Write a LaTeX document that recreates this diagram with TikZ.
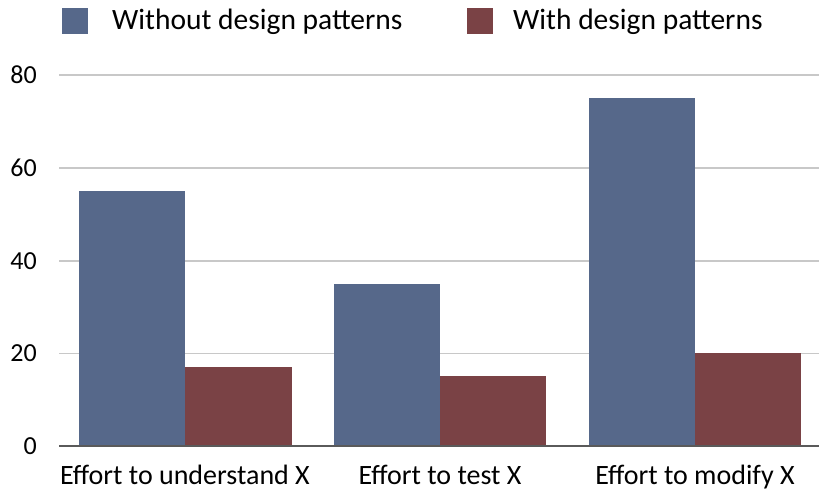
\documentclass[tikz,border=0pt]{standalone}
\usepackage{fontspec}
\setmainfont{Carlito}
\definecolor{barblue}{RGB}{86,104,138}
\definecolor{barred}{RGB}{122,66,69}
\definecolor{gridgray}{RGB}{200,200,200}
\definecolor{axisgray}{RGB}{90,90,90}
\begin{document}
\begin{tikzpicture}[x=1pt,y=-1pt,
  gridline/.style={draw=gridgray,line width=1.6pt},
  axisline/.style={draw=axisgray,line width=1.6pt},
  blueBar/.style={fill=barblue,draw=none},
  redBar/.style={fill=barred,draw=none},
  ticklab/.style={anchor=east,inner sep=0pt,font=\fontsize{26}{26}\selectfont},
  catlab/.style={anchor=base,inner sep=0pt,font=\fontsize{28}{28}\selectfont},
  leglab/.style={anchor=base west,inner sep=0pt,font=\fontsize{29.5}{30}\selectfont}]
\useasboundingbox (0,0) rectangle (820,491);
% grid
\foreach \v/\yy in {20/353.5,40/261,60/168,80/75}{
  \draw[gridline] (59,\yy) -- (819,\yy);
  \node[ticklab] (t\v) at (37,\yy) {\v};
}
\node[ticklab] (t0) at (37,446) {0};
% bars
\fill[blueBar] (79,446) rectangle (185,191);
\fill[redBar] (185,446) rectangle (292,367);
\fill[blueBar] (334,446) rectangle (440,284);
\fill[redBar] (440,446) rectangle (546,376);
\fill[blueBar] (589,446) rectangle (695,98);
\fill[redBar] (695,446) rectangle (801,353);
% axis
\draw[axisline] (59,446) -- (819,446);
% category labels
\node[catlab] (c1) at (185,484) {Effort to understand X};
\node[catlab] (c2) at (440,484) {Effort to test X};
\node[catlab] (c3) at (695,484) {Effort to modify X};
% legend
\fill[blueBar] (62,8) rectangle (88,34);
\node[leglab] (l1) at (112,29) {Without design patterns};
\fill[redBar] (467,8) rectangle (493,34);
\node[leglab] (l2) at (513,29) {With design patterns};
\end{tikzpicture}
\end{document}
